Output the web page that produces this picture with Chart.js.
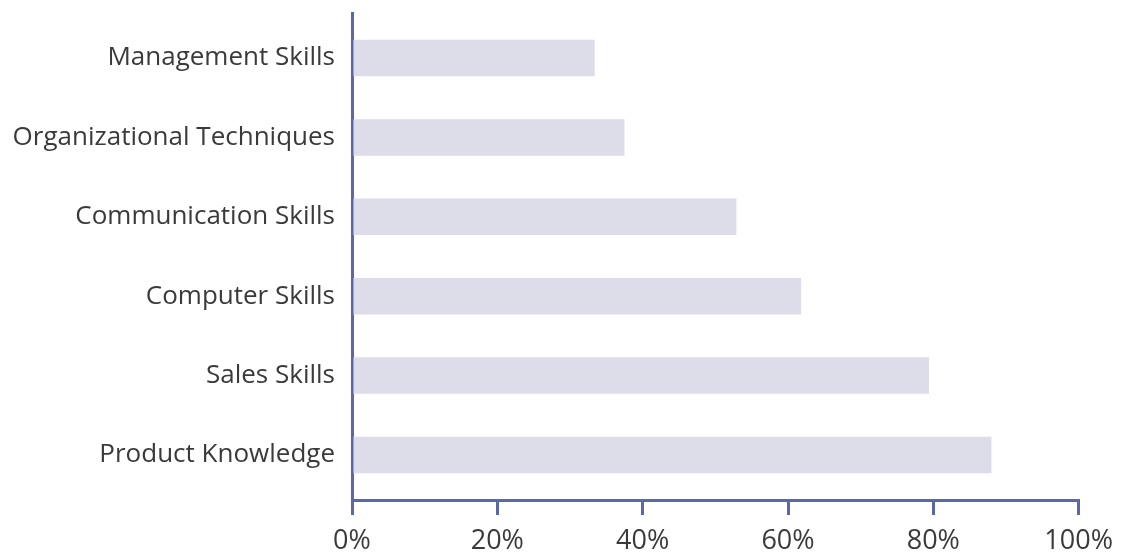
<!DOCTYPE html>
<html>
<head>
<meta charset="utf-8">
<script src="https://cdn.jsdelivr.net/npm/chart.js@4.4.1/dist/chart.umd.min.js"></script>
<style>
  html, body { margin: 0; padding: 0; background: #fff; }
  #wrap { width: 1123px; height: 556px; }
</style>
</head>
<body>
<div id="wrap"><canvas id="skillsChart"></canvas></div>
<script>
const categories = ['Management Skills', 'Organizational Techniques', 'Communication Skills',
                    'Computer Skills', 'Sales Skills', 'Product Knowledge'];
const shares = [33.4, 37.5, 52.9, 61.8, 79.4, 88];
const tickValues = [0, 20, 40, 60, 80, 100];

const AXIS = '#5a68a8';
const BAR = '#dcdde9';
const TEXT = '#3a3a3a';
const FONT = "'Open Sans', 'Liberation Sans', sans-serif";

// y axis runs over the category index, with a little room above the first and below the last bar
const points = shares.map((v, i) => ({ x: v, y: i }));

new Chart(document.getElementById('skillsChart'), {
    type: 'bar',
    data: {
        datasets: [{
            data: points,
            backgroundColor: BAR,
            borderWidth: 0,
            barPercentage: 0.46,
            categoryPercentage: 1
        }]
    },
    options: {
        indexAxis: 'y',
        responsive: true,
        maintainAspectRatio: false,
        animation: false,
        layout: { padding: { top: 13, right: 43, left: 0, bottom: 0 } },
        plugins: { legend: { display: false }, tooltip: { enabled: false } },
        scales: {
            x: {
                type: 'linear',
                min: 0,
                max: 100,
                afterBuildTicks: s => { s.ticks = tickValues.map(v => ({ value: v })); },
                border: { display: true, color: AXIS, width: 3 },
                grid: { drawOnChartArea: false, drawTicks: true, tickLength: 15, color: AXIS, lineWidth: 3 },
                ticks: {
                    color: TEXT,
                    font: { family: FONT, size: 27 },
                    padding: 10,
                    maxRotation: 0,
                    callback: v => v + '%'
                },
                afterFit: s => { s.height = 56; }
            },
            y: {
                type: 'linear',
                reverse: true,
                offset: false,
                min: -0.567,
                max: categories.length - 1 + 0.567,
                afterBuildTicks: s => { s.ticks = categories.map((c, i) => ({ value: i })); },
                border: { display: true, color: AXIS, width: 3 },
                grid: { display: false, offset: false },
                ticks: {
                    color: TEXT,
                    font: { family: FONT, size: 26 },
                    padding: 9,
                    callback: v => categories[v]
                },
                afterFit: s => { s.width = 352; s.paddingTop = 0; s.paddingBottom = 0; }
            }
        }
    }
});
</script>
</body>
</html>
